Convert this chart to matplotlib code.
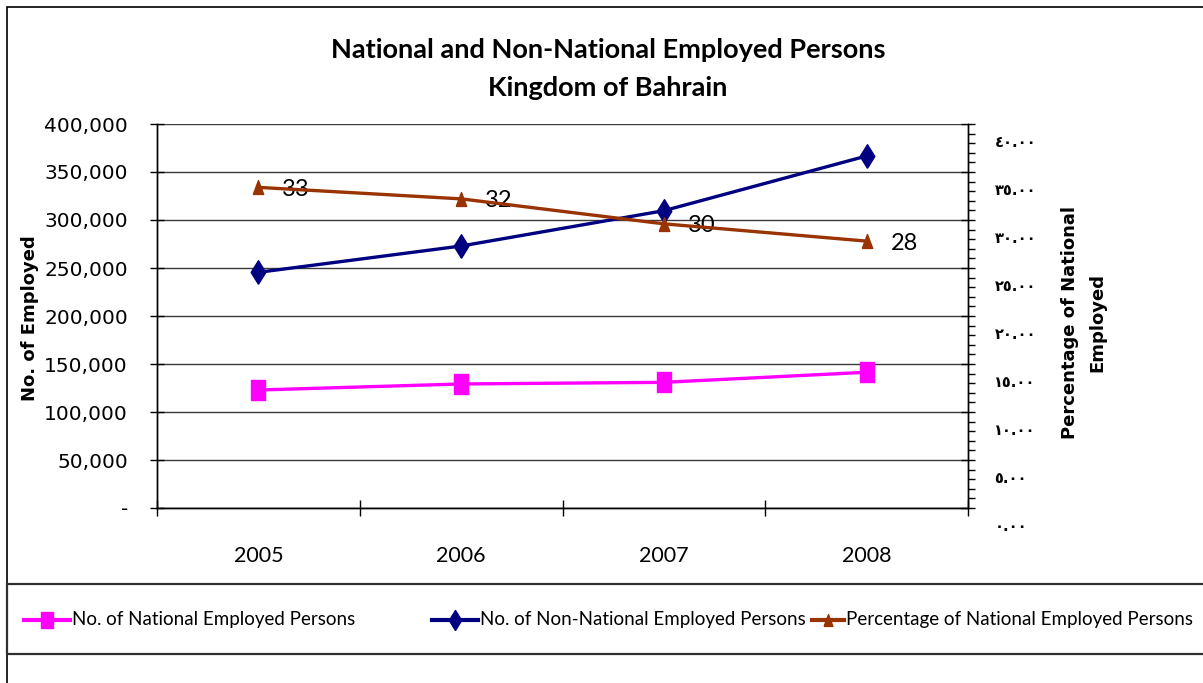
import matplotlib
matplotlib.use("Agg")
import matplotlib.pyplot as plt
import matplotlib.ticker as mticker
from matplotlib.patches import Rectangle
from matplotlib.lines import Line2D
from matplotlib.transforms import ScaledTranslation
import numpy as np

years = ["2005", "2006", "2007", "2008"]
national = [122900, 129200, 130900, 141400]
non_national = [245500, 272900, 309700, 366700]
pct_national = [33.4, 32.2, 29.6, 27.8]
pct_labels = ["33", "32", "30", "28"]

title = "National and Non-National Employed Persons\nKingdom of Bahrain"
left_label = "No. of Employed"
right_label = "Percentage of National\nEmployed"
legend_labels = ["No. of National Employed Persons",
                 "No. of Non-National Employed Persons",
                 "Percentage of National Employed Persons"]

NARROW = ["Lato", "DejaVu Sans"]
W, H = 1203, 683
fig = plt.figure(figsize=(W / 100, H / 100), dpi=100)
fig.patch.set_facecolor("white")

def px(x0, y0, x1, y1):
    return [x0 / W, 1 - y1 / H, (x1 - x0) / W, (y1 - y0) / H]

ax = fig.add_axes(px(157, 124, 968, 508))
ax2 = ax.twinx()

x = np.arange(len(years))
c_pink, c_navy, c_brown = "#FF00FF", "#000080", "#993300"
m_rect = [(-0.7, -1), (0.7, -1), (0.7, 1), (-0.7, 1), (-0.7, -1)]
m_diam = [(0, -1), (0.62, 0), (0, 1), (-0.62, 0), (0, -1)]
m_tri = [(-0.75, -1), (0.75, -1), (0, 1), (-0.75, -1)]
styles = [
    dict(color=c_pink, lw=2.4, marker=m_rect, ms=14, mec=c_pink),
    dict(color=c_navy, lw=2.4, marker=m_diam, ms=17, mec=c_navy),
    dict(color=c_brown, lw=2.4, marker=m_tri, ms=10, mec=c_brown),
]

ax.plot(x, national, zorder=5, **styles[0])
ax.plot(x, non_national, zorder=5, **styles[1])
ax2.plot(x, pct_national, zorder=5, **styles[2])

off = ScaledTranslation(24 / 100, -2 / 100, fig.dpi_scale_trans)
for xi, yi, lab in zip(x, pct_national, pct_labels):
    ax2.text(xi, yi, lab, transform=ax2.transData + off, ha="left", va="center",
             fontsize=17, family=NARROW, color="black")

ax.set_xlim(-0.5, 3.5)
ax.set_ylim(0, 400000)
ax2.set_ylim(0, 40)

ax.yaxis.set_major_locator(mticker.MultipleLocator(50000))
ax.yaxis.set_major_formatter(mticker.FuncFormatter(lambda v, p: "-" if v == 0 else f"{v:,.0f}"))
ax.grid(axis="y", color="#3a3a3a", lw=1.0)
ax.set_axisbelow(True)

ax.set_xticks(x)
ax.set_xticklabels(years, family=NARROW, fontsize=15.5)
ax.set_xticks(np.arange(-0.5, 4, 1), minor=True)
ax.tick_params(axis="x", which="major", length=0, pad=27)
ax.tick_params(axis="x", which="minor", direction="inout", length=12, width=1)
ax.tick_params(axis="y", which="major", direction="inout", length=10, width=1, pad=16,
               labelsize=14.5)

arabic = str.maketrans("0123456789", "٠١٢٣٤٥٦٧٨٩")
ax2.yaxis.set_major_locator(mticker.MultipleLocator(5))
ax2.yaxis.set_minor_locator(mticker.MultipleLocator(1))
ax2.yaxis.set_major_formatter(mticker.FuncFormatter(lambda v, p: f"{v:.2f}".translate(arabic)))
ax2.tick_params(axis="y", which="major", direction="inout", length=10, width=1, pad=14,
                labelsize=10.5)
ax2.tick_params(axis="y", which="minor", direction="out", length=5, width=1)
for lab in ax2.get_yticklabels():
    lab.set_fontweight("bold")
    lab.set_transform(lab.get_transform() + ScaledTranslation(0, -17 / 100, fig.dpi_scale_trans))

for a in (ax, ax2):
    a.spines["top"].set_visible(False)
    for s in ("left", "right", "bottom"):
        a.spines[s].set_color("black")
        a.spines[s].set_linewidth(1.0)

fig.text(30 / W, 1 - 318 / H, left_label, rotation=90, ha="center", va="center",
         fontsize=13, fontweight="bold")
fig.text(1084 / W, 1 - 322 / H, right_label, rotation=90, ha="center", va="center",
         fontsize=13, fontweight="bold", linespacing=1.65)

fig.text(608 / W, 1 - 69 / H, title, ha="center", va="center", fontsize=19.5,
         fontweight="bold", family=NARROW, linespacing=1.65)

# outer frame (top & left visible)
fig.add_artist(Rectangle((7 / W, -0.05), 1.1, 1 - 7 / H + 0.05, transform=fig.transFigure,
                         fill=False, edgecolor="black", lw=1.2))
# legend box
fig.add_artist(Rectangle((7 / W, 1 - 654 / H), 1.1, 70 / H, transform=fig.transFigure,
                         fill=False, edgecolor="#303030", lw=1.6))

# legend entries placed manually
leg_y = 1 - 620 / H
handle_x = [(24, 70), (432, 478), (812, 844)]
text_x = [72, 480, 846]
for (h0, h1), tx, st, lab in zip(handle_x, text_x, styles, legend_labels):
    fig.add_artist(Line2D([h0 / W, h1 / W], [leg_y, leg_y], transform=fig.transFigure,
                          color=st["color"], lw=3))
    fig.add_artist(Line2D([(h0 + h1) / 2 / W], [leg_y], transform=fig.transFigure,
                          color=st["color"], lw=0, marker=st["marker"], ms=st["ms"] * 0.85,
                          mec=st["mec"]))
    fig.text(tx / W, leg_y, lab, ha="left", va="center", fontsize=13.5, family=NARROW)

fig.savefig("out.png", dpi=100)
